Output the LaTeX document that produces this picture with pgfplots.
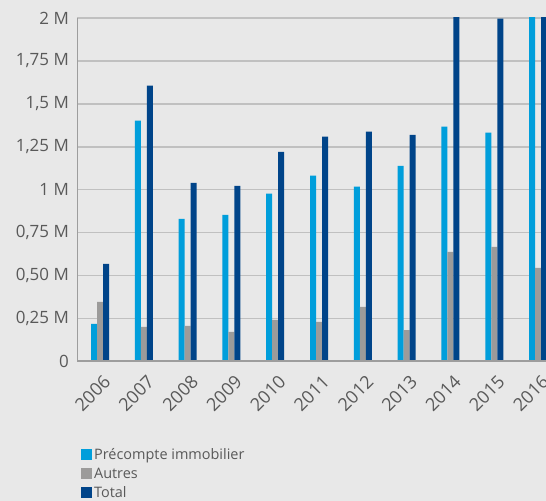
\documentclass[border=0pt]{standalone}
\usepackage{pgfplots}
\pgfplotsset{compat=1.18}
\usepackage{fontspec}
\setmainfont{Open Sans}
\definecolor{bg}{HTML}{E8E8E8}
\definecolor{gridc}{HTML}{C0C0C0}
\definecolor{axisc}{HTML}{9D9D9D}
\definecolor{txt}{HTML}{595959}
\definecolor{cyanbar}{HTML}{009EDB}
\definecolor{graybar}{HTML}{9C9B9A}
\definecolor{navybar}{HTML}{004489}
\pgfplotsset{sqlegend/.style={legend image code/.code={\fill[##1] (0bp,-5.5bp) rectangle (11bp,5.5bp);}}}
\begin{document}
\begin{tikzpicture}[trim left=0bp, trim right=546bp]
\fill[bg] (0,0) rectangle (546bp,501bp);
\begin{scope}
\clip (0,0) rectangle (546bp,501bp);
\begin{axis}[
    at={(77bp,139.5bp)}, anchor=south west,
    scale only axis, width=469bp, height=343.5bp,
    ybar=0pt, bar width=6bp,
    xmin=-0.525, xmax=10.18,
    ymin=0, ymax=2,
    xtick={0,...,10},
    xticklabels={2006,2007,2008,2009,2010,2011,2012,2013,2014,2015,2016},
    ytick={0,0.25,0.5,0.75,1,1.25,1.5,1.75,2},
    yticklabels={0,{0,25 M},{0,50 M},{0,75 M},1 M,{1,25 M},{1,5 M},{1,75 M},2 M},
    axis line style={draw=none},
    tick style={draw=none},
    ymajorgrids, grid style={line width=1.5bp, gridc},
    ticklabel style={text=txt},
    yticklabel style={font=\fontsize{17}{17}\selectfont, anchor=east, inner sep=0pt, xshift=-8bp},
    xticklabel style={font=\fontsize{18}{18}\selectfont, rotate=45, anchor=north east, inner sep=0pt, yshift=-7.5bp, xshift=-4bp},
    legend style={at={(0.002,-0.24)}, anchor=north west, draw=none, fill=none,
        font=\fontsize{14.5}{16}\selectfont, text=txt, row sep=3bp},
    legend cell align=left,
]
\addplot[fill=cyanbar, draw=none, sqlegend] coordinates {
    (0,0.219) (1,1.402) (2,0.831) (3,0.854) (4,0.977) (5,1.082)
    (6,1.018) (7,1.139) (8,1.367) (9,1.332) (10,2.3)
};
\addplot[fill=graybar, draw=none, sqlegend] coordinates {
    (0,0.347) (1,0.201) (2,0.207) (3,0.172) (4,0.242) (5,0.230)
    (6,0.318) (7,0.183) (8,0.638) (9,0.667) (10,0.545)
};
\addplot[fill=navybar, draw=none, sqlegend] coordinates {
    (0,0.569) (1,1.606) (2,1.040) (3,1.023) (4,1.221) (5,1.309)
    (6,1.338) (7,1.320) (8,2.005) (9,1.997) (10,2.845)
};
\legend{Précompte immobilier, Autres, Total}
% axis lines
\draw[axisc, line width=0.8bp] (axis cs:-0.525,0) -- (axis cs:-0.525,2);
\draw[axisc, line width=2bp] (axis cs:-0.525,0) -- (axis cs:10.18,0);
\end{axis}
\end{scope}
\end{tikzpicture}
\end{document}
